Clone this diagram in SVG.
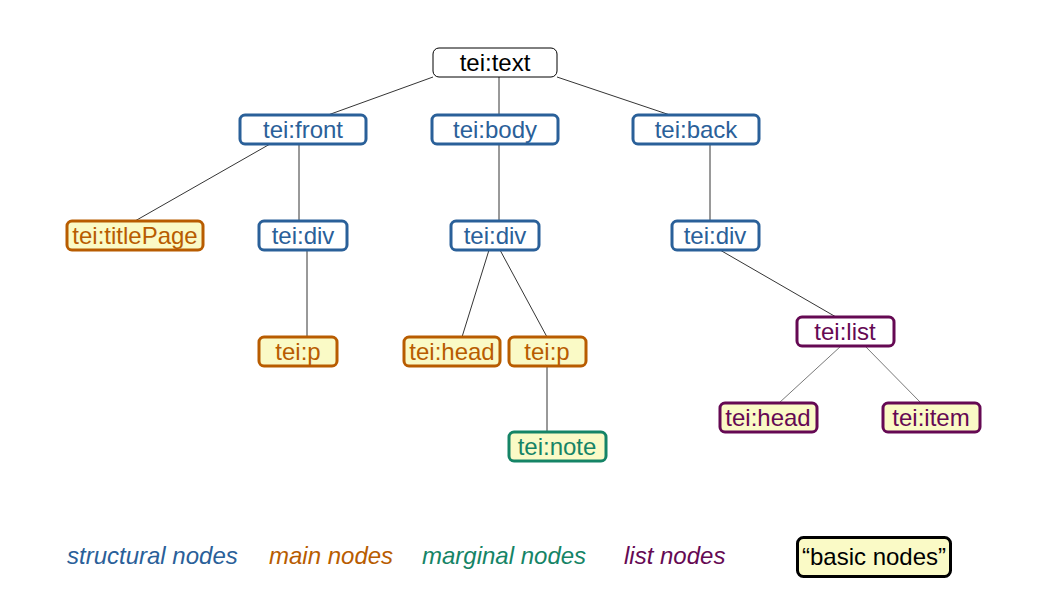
<svg xmlns="http://www.w3.org/2000/svg" width="1058" height="595" viewBox="0 0 1058 595">
<style>
text{font-family:"Liberation Sans",Arial,sans-serif;font-size:24px;text-anchor:middle}
.box{stroke-width:3}
.root rect{fill:#fff;stroke:#000;stroke-width:1}
.root text{fill:#000}
.st rect{fill:#fff;stroke:#2a6099}
.st text{fill:#2a6099}
.mn rect{fill:#fafac6;stroke:#b85c00}
.mn text{fill:#b85c00}
.mg rect{fill:#fafac6;stroke:#158466}
.mg text{fill:#158466}
.ls rect{fill:#fff;stroke:#650953}
.ls text{fill:#650953}
.li rect{fill:#fafac6;stroke:#650953}
.li text{fill:#650953}
.bs rect{fill:#fafac6;stroke:#000}
.bs text{fill:#000}
.leg{font-style:italic;text-anchor:start}
#edges line{stroke:#000;stroke-width:0.8}
#edges line.g{stroke:#555}
</style>
<rect width="1058" height="595" fill="#fff"/>
<g id="edges">
<line x1="433" y1="77" x2="328" y2="115"/>
<line x1="499" y1="77" x2="499" y2="115"/>
<line x1="557" y1="77" x2="670" y2="115"/>
<line x1="270" y1="144" x2="135" y2="221"/>
<line x1="299" y1="144" x2="299" y2="221"/>
<line x1="499" y1="144" x2="499" y2="221"/>
<line x1="710" y1="144" x2="710" y2="221"/>
<line x1="307" y1="250" x2="307" y2="337"/>
<line x1="489" y1="250" x2="462" y2="337"/>
<line x1="500" y1="250" x2="547" y2="337"/>
<line x1="547" y1="366" x2="547" y2="432"/>
<line x1="720" y1="250" x2="836" y2="317"/>
<line class="g" x1="841" y1="346" x2="779" y2="403"/>
<line class="g" x1="865" y1="346" x2="921" y2="403"/>
</g>
<g id="n-text" class="root"><rect x="433" y="48" width="124" height="29" rx="6"/><text x="495" y="71">tei:text</text></g>
<g id="n-front" class="st"><rect class="box" x="240" y="115" width="126" height="29" rx="5"/><text x="303" y="138">tei:front</text></g>
<g id="n-body" class="st"><rect class="box" x="432" y="115" width="126" height="29" rx="5"/><text x="495" y="138">tei:body</text></g>
<g id="n-back" class="st"><rect class="box" x="633" y="115" width="126" height="29" rx="5"/><text x="696" y="138">tei:back</text></g>
<g id="n-titlepage" class="mn"><rect class="box" x="67" y="221" width="136" height="29" rx="5"/><text x="135" y="244">tei:titlePage</text></g>
<g id="n-div1" class="st"><rect class="box" x="259" y="221" width="88" height="29" rx="5"/><text x="303" y="244">tei:div</text></g>
<g id="n-div2" class="st"><rect class="box" x="451" y="221" width="88" height="29" rx="5"/><text x="495" y="244">tei:div</text></g>
<g id="n-div3" class="st"><rect class="box" x="672" y="221" width="87" height="29" rx="5"/><text x="715" y="244">tei:div</text></g>
<g id="n-p1" class="mn"><rect class="box" x="259" y="337" width="78" height="29" rx="5"/><text x="298" y="360">tei:p</text></g>
<g id="n-head1" class="mn"><rect class="box" x="404" y="337" width="96" height="29" rx="5"/><text x="452" y="360">tei:head</text></g>
<g id="n-p2" class="mn"><rect class="box" x="509" y="337" width="77" height="29" rx="5"/><text x="547" y="360">tei:p</text></g>
<g id="n-note" class="mg"><rect class="box" x="509" y="432" width="97" height="29" rx="5"/><text x="557" y="455">tei:note</text></g>
<g id="n-list" class="ls"><rect class="box" x="797" y="317" width="97" height="29" rx="5"/><text x="845" y="340">tei:list</text></g>
<g id="n-head2" class="li"><rect class="box" x="720" y="403" width="97" height="29" rx="5"/><text x="768" y="426">tei:head</text></g>
<g id="n-item" class="li"><rect class="box" x="883" y="403" width="97" height="29" rx="5"/><text x="931" y="426">tei:item</text></g>
<g id="legend">
<text class="leg" x="67" y="564" fill="#2a6099">structural nodes</text>
<text class="leg" x="269" y="564" fill="#b85c00">main nodes</text>
<text class="leg" x="422" y="564" fill="#158466">marginal nodes</text>
<text class="leg" x="624" y="564" fill="#650953">list nodes</text>
<g id="n-basic" class="bs"><rect class="box" x="797.5" y="537.5" width="153" height="39" rx="6"/><text x="874" y="565">“basic nodes”</text></g>
</g>
</svg>
